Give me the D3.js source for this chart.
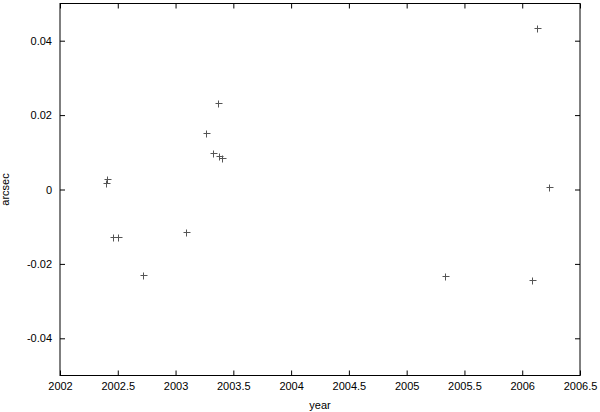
<!DOCTYPE html>
<html>
<head>
<meta charset="utf-8">
<script src="https://cdnjs.cloudflare.com/ajax/libs/d3/7.8.5/d3.min.js"></script>
<style>
  body { margin: 0; background: #fff; }
  text { font-family: "Liberation Sans", Arial, sans-serif; font-size: 11px; fill: #000; }
</style>
</head>
<body>
<div id="chart"></div>
<script>
var width = 600,
    height = 412;

var margin = {left: 60, right: 20, top: 3.5, bottom: 36.5};

// observations (year, offset in arcsec)
var years = [2002.407, 2002.402, 2002.46, 2002.505, 2002.72, 2003.09,
             2003.263, 2003.37, 2003.32, 2003.373, 2003.399,
             2005.33, 2006.086, 2006.124, 2006.233];
var offsets = [0.0029, 0.0018, -0.0128, -0.0128, -0.0229, -0.0115,
               0.0152, 0.0232, 0.0099, 0.0091, 0.0084,
               -0.0233, -0.0244, 0.0434, 0.0008];

var xTicks = [2002, 2002.5, 2003, 2003.5, 2004, 2004.5, 2005, 2005.5, 2006, 2006.5];
var yTicks = [-0.04, -0.02, 0, 0.02, 0.04];

var svg = d3.select("#chart").append("svg")
    .attr("width", width)
    .attr("height", height);

var x = d3.scaleLinear()
    .domain([2002, 2006.5])
    .range([margin.left, width - margin.right]);

var y = d3.scaleLinear()
    .domain([-0.05, 0.05])
    .range([height - margin.bottom, margin.top]);

// gnuplot style labels, plain hyphen for minus
var fmtY = function(d){ return d === 0 ? "0" : d3.format(".2f")(d).replace("\u2212", "-"); };
var fmtX = function(d){ return String(d); };

// bottom + top axes (ticks inside)
svg.append("g")
  .attr("transform", "translate(0," + y(-0.05) + ")")
  .call(d3.axisBottom(x).tickValues(xTicks).tickFormat(fmtX).tickSizeInner(-5).tickSizeOuter(0).tickPadding(7))
  .call(function(g){ g.select(".domain").remove(); });

svg.append("g")
  .attr("transform", "translate(0," + y(0.05) + ")")
  .call(d3.axisTop(x).tickValues(xTicks).tickFormat("").tickSizeInner(-5).tickSizeOuter(0))
  .call(function(g){ g.select(".domain").remove(); });

svg.append("g")
  .attr("transform", "translate(" + x(2002) + ",0)")
  .call(d3.axisLeft(y).tickValues(yTicks).tickFormat(fmtY).tickSizeInner(-5).tickSizeOuter(0).tickPadding(8))
  .call(function(g){ g.select(".domain").remove(); });

svg.append("g")
  .attr("transform", "translate(" + x(2006.5) + ",0)")
  .call(d3.axisRight(y).tickValues(yTicks).tickFormat("").tickSizeInner(-5).tickSizeOuter(0))
  .call(function(g){ g.select(".domain").remove(); });

svg.selectAll(".tick line").attr("stroke", "#000").attr("stroke-width", 1);
svg.selectAll(".tick text")
  .attr("fill", "#000")
  .attr("font-size", 11)
  .attr("font-family", "Liberation Sans, Arial, sans-serif");

// frame
svg.append("rect")
  .attr("x", x(2002))
  .attr("y", y(0.05))
  .attr("width", x(2006.5) - x(2002))
  .attr("height", y(-0.05) - y(0.05))
  .attr("fill", "none")
  .attr("stroke", "#000")
  .attr("stroke-width", 1);

// points as "+" markers
svg.append("g").attr("class", "points")
  .selectAll("path")
  .data(years.map(function(d, i){ return [d, offsets[i]]; }))
  .enter()
  .append("path")
  .attr("d", function(d){
    var px = Math.round(x(d[0])) + 0.5, py = Math.round(y(d[1])) + 0.5;
    return "M" + (px - 3) + "," + py + "H" + (px + 4) +
           "M" + px + "," + (py - 3) + "V" + (py + 4);
  })
  .attr("stroke", "#555")
  .attr("stroke-width", 1)
  .attr("fill", "none");

// axis labels
svg.append("text")
  .attr("x", (x(2002) + x(2006.5)) / 2)
  .attr("y", 409)
  .attr("text-anchor", "middle")
  .attr("fill", "#000")
  .text("year");

svg.append("text")
  .attr("transform", "translate(9," + y(0) + ") rotate(-90)")
  .attr("text-anchor", "middle")
  .attr("fill", "#000")
  .text("arcsec");
</script>
</body>
</html>
